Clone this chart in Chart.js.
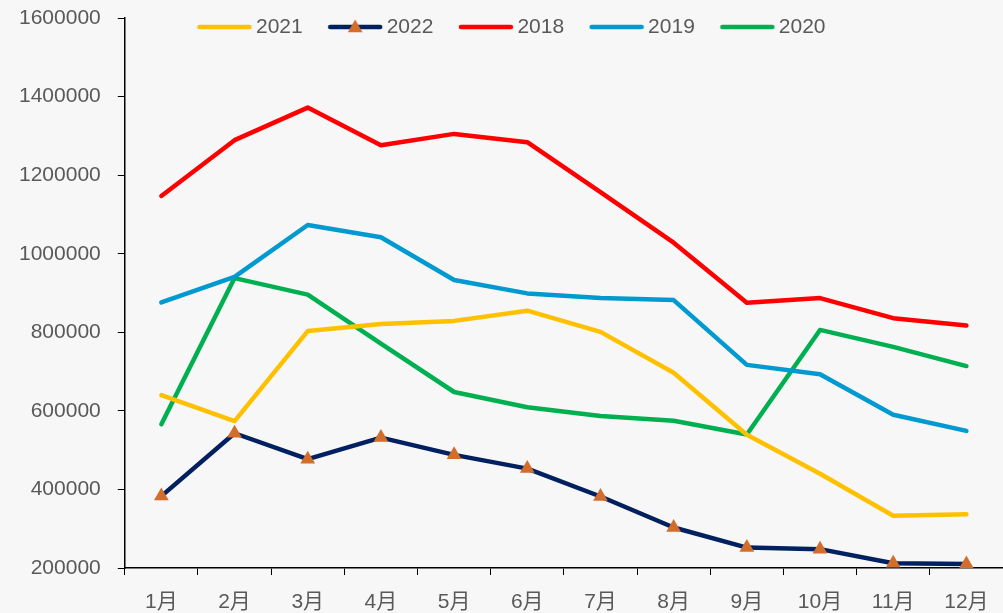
<!DOCTYPE html>
<html>
<head>
<meta charset="utf-8">
<script src="https://cdn.jsdelivr.net/npm/chart.js@4"></script>
<style>
  html, body { margin: 0; padding: 0; background: #f7f7f7; overflow: hidden; }
  canvas { display: block; }
</style>
</head>
<body>
<canvas id="monthChart" width="1003" height="613"></canvas>
<script>
// 月份
const months = ['1月', '2月', '3月', '4月', '5月', '6月', '7月', '8月', '9月', '10月', '11月', '12月'];

// 各年数据
const y2021 = [640000, 574000, 803000, 821000, 829000, 855000, 801000, 697000, 539000, 440000, 333000, 337000];
const y2022 = [383000, 543000, 477000, 532000, 488000, 453000, 382000, 303000, 252000, 248000, 212000, 210000];
const y2018 = [1147000, 1289000, 1372000, 1276000, 1305000, 1284000, 1157000, 1028000, 875000, 887000, 836000, 817000];
const y2019 = [876000, 941000, 1073000, 1042000, 933000, 899000, 887000, 882000, 717000, 693000, 590000, 549000];
const y2020 = [566000, 938000, 896000, 771000, 648000, 609000, 587000, 575000, 540000, 806000, 763000, 714000];

// y轴刻度
const yMin = 200000;
const yMax = 1600000;
const yStep = 200000;

const FONT = "'Liberation Sans', 'Noto Sans CJK SC', sans-serif";
const TEXT = '#595959';
const MARK = '#D36D2B';

// 图例里的线段小图 (带三角标记的是2022)
function swatch(color, withTriangle) {
    const c = document.createElement('canvas');
    c.width = 56; c.height = 18;
    const g = c.getContext('2d');
    g.strokeStyle = color;
    g.lineWidth = 4.5;
    g.lineCap = 'round';
    g.beginPath();
    g.moveTo(3, 9); g.lineTo(53, 9);
    g.stroke();
    if (withTriangle) {
        const r = 8.5, cx = 28, cy = 10;
        g.fillStyle = MARK;
        g.beginPath();
        g.moveTo(cx, cy - r);
        g.lineTo(cx + r * 0.866, cy + r / 2);
        g.lineTo(cx - r * 0.866, cy + r / 2);
        g.closePath();
        g.fill();
    }
    return c;
}

function line(label, data, color, extra) {
    return Object.assign({
        label: label,
        data: data,
        borderColor: color,
        backgroundColor: color,
        borderWidth: 4.5,
        borderCapStyle: 'round',
        borderJoinStyle: 'round',
        pointRadius: 0,
        pointHoverRadius: 0,
        tension: 0,
        fill: false,
        legendImage: swatch(color, false)
    }, extra || {});
}

const datasets = [
    line('2021', y2021, '#FFC000'),
    line('2022', y2022, '#002060', {
        pointStyle: 'triangle',
        pointRadius: 8.5,
        pointBackgroundColor: MARK,
        pointBorderColor: MARK,
        pointBorderWidth: 0,
        legendImage: swatch('#002060', true)
    }),
    line('2018', y2018, '#FF0000'),
    line('2019', y2019, '#0099D0'),
    line('2020', y2020, '#00B050')
];

// 图例放进绘图区顶部, 横排, 位置微调
const legendShift = {
    id: 'legendShift',
    beforeLayout(chart) {
        if (chart.legend) chart.legend.isHorizontal = () => true;
    },
    afterLayout(chart) {
        const lg = chart.legend;
        if (!lg) return;
        lg.left = 26;
        lg.right = chart.width;
        lg.top = -15;
    }
};

new Chart(document.getElementById('monthChart').getContext('2d'), {
    type: 'line',
    data: { labels: months, datasets: datasets },
    plugins: [legendShift],
    options: {
        responsive: false,
        animation: false,
        layout: { autoPadding: false, padding: { left: 2, right: 0, top: 18, bottom: 0 } },
        plugins: {
            tooltip: { enabled: false },
            legend: {
                position: 'chartArea',
                align: 'center',
                labels: {
                    color: TEXT,
                    font: { family: FONT, size: 21 },
                    usePointStyle: true,
                    pointStyleWidth: 42,
                    padding: 31.5,
                    generateLabels(chart) {
                        const items = Chart.defaults.plugins.legend.labels.generateLabels(chart);
                        items.forEach(it => {
                            it.pointStyle = chart.data.datasets[it.datasetIndex].legendImage;
                        });
                        return items;
                    }
                }
            }
        },
        scales: {
            x: {
                offset: true,
                afterFit(s) {
                    s.paddingLeft = 0;
                    s.paddingRight = 0;
                    s.height = 45;
                },
                grid: {
                    offset: true,
                    drawOnChartArea: false,
                    drawTicks: true,
                    tickLength: 7,
                    color: '#000'
                },
                border: { display: true, color: '#000', width: 1.5 },
                ticks: {
                    color: TEXT,
                    font: { family: FONT, size: 21 },
                    padding: 15,
                    maxRotation: 0
                }
            },
            y: {
                min: yMin,
                max: yMax,
                afterFit(s) {
                    s.paddingTop = 0;
                    s.paddingBottom = 0;
                },
                grid: {
                    drawOnChartArea: false,
                    drawTicks: true,
                    tickLength: 7,
                    color: '#000'
                },
                border: { display: true, color: '#000', width: 1.5 },
                ticks: {
                    stepSize: yStep,
                    color: TEXT,
                    font: { family: FONT, size: 21 },
                    padding: 17,
                    callback: v => String(v)
                }
            }
        }
    }
});
</script>
</body>
</html>
